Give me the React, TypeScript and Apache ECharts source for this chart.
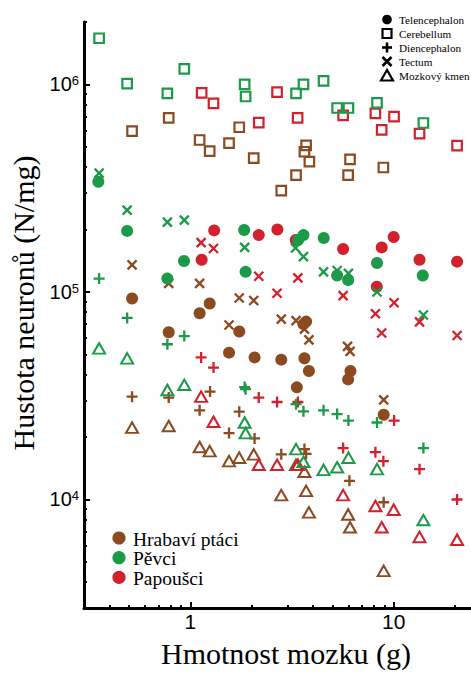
import React, { useEffect, useRef } from "react";
import * as echarts from "echarts";

// ---- labels ----
const groupNames = ["Hrabaví ptáci", "Pěvci", "Papoušci"];
const regionNames = ["Telencephalon", "Cerebellum", "Diencephalon", "Tectum", "Mozkový kmen"];
const xTitle = "Hmotnost mozku (g)";
const yTitle = "Hustota neuronů (N/mg)";

// ---- axis ticks (raw values) ----
const xMajorTicks = [1, 10];
const xMinorTicks = [0.4, 0.5, 0.6, 0.7, 0.8, 0.9, 2, 3, 4, 5, 6, 7, 8, 9, 20];
const yMajorTicks = [1e4, 1e5, 1e6];
const yMinorTicks = [
  4e3, 5e3, 6e3, 7e3, 8e3, 9e3,
  2e4, 3e4, 4e4, 5e4, 6e4, 7e4, 8e4, 9e4,
  2e5, 3e5, 4e5, 5e5, 6e5, 7e5, 8e5, 9e5,
  2e6,
];
const xRange = [0.3, 24];
const yRange = [3000, 2e6];

// ---- data: [brain mass (g), neuron density (N/mg)] ----
// Hrabaví ptáci
const hrabaviTelencephalon = [[0.517, 93000], [0.783, 64000], [1.111, 79000], [1.245, 88000], [1.55, 51000], [1.74, 64500], [2.07, 48400], [2.8, 47200], [3.34, 34700], [3.6, 70000], [3.71, 72000], [3.64, 47900], [3.83, 41600], [5.97, 37900], [6.13, 41600], [8.93, 25600]];
const hrabaviCerebellum = [[0.517, 596000], [0.783, 690000], [1.111, 540000], [1.245, 477000], [1.55, 522000], [1.74, 622000], [2.05, 442000], [2.8, 308000], [3.31, 366000], [3.71, 509000], [3.64, 474000], [3.85, 425000], [5.97, 366000], [6.1, 436000], [8.9, 398000]];
const hrabaviDiencephalon = [[0.517, 31300], [0.783, 31000], [1.111, 26900], [1.25, 33100], [1.55, 20900], [1.74, 26500], [2.07, 19700], [2.8, 16500], [3.64, 17500], [3.71, 16600], [6.06, 12300], [8.93, 9700]];
const hrabaviTectum = [[0.517, 135000], [0.783, 110000], [1.111, 110000], [1.55, 69300], [1.74, 93500], [2.05, 91000], [2.8, 74000], [3.31, 72800], [3.64, 66200], [3.83, 58800], [5.93, 54700], [6.1, 51700], [8.93, 30200]];
const hrabaviKmen = [[0.517, 22200], [0.783, 22600], [1.111, 17900], [1.245, 17100], [1.55, 15300], [1.74, 15900], [2.05, 16500], [2.8, 10500], [3.31, 14700], [3.64, 13600], [3.71, 11000], [3.83, 8670], [5.97, 8470], [6.1, 7350], [8.93, 4530]];
// Pěvci
const pevciTelencephalon = [[0.353, 340000], [0.489, 197000], [0.771, 116000], [0.931, 141000], [1.84, 199000], [1.87, 125000], [3.39, 178000], [3.6, 188000], [4.53, 182000], [5.27, 120000], [5.97, 114000], [8.28, 138000], [13.9, 120000]];
const pevciCerebellum = [[0.356, 1670000], [0.489, 1010000], [0.771, 905000], [0.934, 1190000], [1.85, 1000000], [1.87, 875000], [3.31, 905000], [3.6, 1000000], [4.52, 1040000], [5.27, 770000], [5.99, 770000], [8.28, 815000], [14.0, 652000]];
const pevciDiencephalon = [[0.356, 116000], [0.489, 75000], [0.771, 56000], [0.934, 61300], [1.85, 34800], [1.87, 34000], [3.31, 28800], [3.6, 26600], [4.52, 26900], [5.27, 25800], [5.99, 24000], [8.28, 23500], [14.0, 17700]];
const pevciTectum = [[0.356, 374000], [0.489, 248000], [0.771, 217000], [0.934, 222000], [1.85, 164000], [3.29, 163000], [3.6, 148000], [4.52, 125000], [5.27, 127000], [5.99, 123000], [8.28, 100000], [14.0, 77500]];
const pevciKmen = [[0.356, 53500], [0.489, 47900], [0.771, 33700], [0.934, 35700], [1.85, 23500], [1.87, 20900], [3.31, 17500], [3.6, 15200], [4.52, 13900], [5.27, 14300], [5.99, 15900], [8.28, 14000], [14.0, 7960]];
// Papoušci
const papousciTelencephalon = [[1.137, 143000], [1.31, 198000], [2.17, 188000], [2.68, 200000], [3.3, 178000], [5.64, 161000], [8.26, 106000], [8.73, 164000], [10.0, 184000], [13.4, 143000], [20.5, 140000]];
const papousciCerebellum = [[1.137, 910000], [1.3, 810000], [2.17, 655000], [2.67, 918000], [3.37, 690000], [5.64, 710000], [8.13, 725000], [8.73, 604000], [10.04, 700000], [13.4, 580000], [20.5, 507000]];
const papousciDiencephalon = [[1.13, 48400], [1.3, 43200], [2.17, 31000], [2.67, 29500], [3.38, 29500], [5.64, 17700], [8.13, 16900], [8.9, 15300], [10.05, 24000], [13.4, 14000], [20.5, 10000]];
const papousciTectum = [[1.13, 173000], [1.3, 162000], [2.17, 119000], [2.67, 98600], [3.38, 117000], [5.64, 96000], [8.13, 78500], [8.73, 63400], [10.05, 88700], [13.4, 71800], [20.5, 61700]];
const papousciKmen = [[1.13, 31300], [1.3, 23700], [2.17, 14700], [2.67, 14700], [3.38, 14700], [5.64, 10500], [8.13, 9300], [8.73, 7350], [10.0, 8930], [13.4, 6600], [20.5, 6400]];

const BROWN = "#8b4a20";
const GREEN = "#1b9a48";
const RED = "#d2202c";
const groupColors = [BROWN, GREEN, RED];

const SERIF = "Liberation Serif";
const SANS = "Liberation Sans";

const PLUS = "path://M5,0L5,10M0,5L10,5";
const CROSS = "path://M0,0L10,10M10,0L0,10";

const lx = (g: number) => Math.log10(g);
const ly = (v: number) => Math.log10(v);

const regionStyles: any[] = [
  { symbol: "circle", size: 12, filled: true, bw: 0 },
  { symbol: "rect", size: 9.5, filled: false, bw: 2.2 },
  { symbol: PLUS, size: 11, filled: false, bw: 2.3 },
  { symbol: CROSS, size: 9, filled: false, bw: 2.3 },
  { symbol: "triangle", size: [12, 10.5], filled: false, bw: 2 },
];

function legendGraphics() {
  const els: any[] = [];
  // region legend (top right)
  const sx = 387;
  const tx = 399;
  regionNames.forEach((n, i) => {
    const cy = 19.5 + 14 * i;
    const stroke = { stroke: "#000", lineWidth: 2.2, fill: "none" };
    if (i === 0) els.push({ type: "circle", shape: { cx: sx, cy, r: 4.8 }, style: { fill: "#000" } });
    if (i === 1) els.push({ type: "rect", shape: { x: sx - 4.5, y: cy - 4.5, width: 9, height: 9 }, style: stroke });
    if (i === 2) {
      els.push({ type: "line", shape: { x1: sx - 5, y1: cy, x2: sx + 5, y2: cy }, style: { stroke: "#000", lineWidth: 2.6 } });
      els.push({ type: "line", shape: { x1: sx, y1: cy - 5, x2: sx, y2: cy + 5 }, style: { stroke: "#000", lineWidth: 2.6 } });
    }
    if (i === 3) {
      els.push({ type: "line", shape: { x1: sx - 4.5, y1: cy - 4.5, x2: sx + 4.5, y2: cy + 4.5 }, style: { stroke: "#000", lineWidth: 2.6 } });
      els.push({ type: "line", shape: { x1: sx + 4.5, y1: cy - 4.5, x2: sx - 4.5, y2: cy + 4.5 }, style: { stroke: "#000", lineWidth: 2.6 } });
    }
    if (i === 4) els.push({ type: "polygon", shape: { points: [[sx, cy - 5.5], [sx - 6, cy + 5], [sx + 6, cy + 5]] }, style: stroke });
    els.push({
      type: "text",
      x: tx,
      y: cy,
      style: { text: n, fontFamily: SERIF, fontSize: 11.2, fill: "#000", verticalAlign: "middle", align: "left" },
    });
  });
  // group legend (bottom left)
  groupNames.forEach((n, i) => {
    const cy = 538 + 19.7 * i;
    els.push({ type: "circle", shape: { cx: 119, cy, r: 6.6 }, style: { fill: groupColors[i] } });
    els.push({
      type: "text",
      x: 133,
      y: cy + 1,
      style: { text: n, fontFamily: SERIF, fontSize: 19.5, fill: "#000", verticalAlign: "middle", align: "left" },
    });
  });
  return els;
}

function buildOption() {
  const groups = [
    { name: groupNames[0], color: BROWN, data: [hrabaviTelencephalon, hrabaviCerebellum, hrabaviDiencephalon, hrabaviTectum, hrabaviKmen] },
    { name: groupNames[2], color: RED, data: [papousciTelencephalon, papousciCerebellum, papousciDiencephalon, papousciTectum, papousciKmen] },
    { name: groupNames[1], color: GREEN, data: [pevciTelencephalon, pevciCerebellum, pevciDiencephalon, pevciTectum, pevciKmen] },
  ];
  const series: any[] = [];
  groups.forEach((g) => {
    g.data.forEach((arr, ri) => {
      const st = regionStyles[ri];
      series.push({
        type: "scatter",
        name: g.name + " – " + regionNames[ri],
        xAxisIndex: 0,
        yAxisIndex: 0,
        symbol: st.symbol,
        symbolSize: st.size,
        symbolKeepAspect: false,
        itemStyle: st.filled
          ? { color: g.color, opacity: 1 }
          : { color: "none", borderColor: g.color, borderWidth: st.bw, opacity: 1 },
        emphasis: { disabled: true },
        data: arr.map((p) => [lx(p[0]), ly(p[1])]),
      });
    });
  });

  const xMin = lx(xRange[0]);
  const xMax = lx(xRange[1]);
  const yMin = ly(yRange[0]);
  const yMax = ly(yRange[1]);
  const gridBox = { left: 84, right: 0, top: 22, bottom: 65, containLabel: false };

  return {
    animation: false,
    backgroundColor: "#fff",
    grid: [gridBox, { ...gridBox }],
    graphic: legendGraphics(),
    xAxis: [
      {
        type: "value",
        gridIndex: 0,
        min: xMin,
        max: xMax,
        position: "bottom",
        name: xTitle,
        nameLocation: "middle",
        nameGap: 30,
        nameTextStyle: { fontFamily: SERIF, fontSize: 30, color: "#000", padding: [0, 0, 0, 17] },
        axisLine: { show: true, onZero: false, lineStyle: { color: "#000", width: 3 } },
        axisTick: { show: true, inside: true, length: 6, customValues: xMajorTicks.map(lx), lineStyle: { color: "#000", width: 2 } },
        axisLabel: {
          show: true,
          margin: 3,
          customValues: xMajorTicks.map(lx),
          formatter: (v: number) => String(Math.round(Math.pow(10, v))),
          fontFamily: SANS,
          fontSize: 21,
          color: "#000",
        },
        splitLine: { show: false },
      },
      {
        type: "value",
        gridIndex: 1,
        min: xMin,
        max: xMax,
        position: "bottom",
        axisLine: { show: false, onZero: false },
        axisTick: { show: true, inside: true, length: 3, customValues: xMinorTicks.map(lx), lineStyle: { color: "#000", width: 2 } },
        axisLabel: { show: false },
        splitLine: { show: false },
      },
    ],
    yAxis: [
      {
        type: "value",
        gridIndex: 0,
        min: yMin,
        max: yMax,
        position: "left",
        name: yTitle,
        nameLocation: "middle",
        nameGap: 40,
        nameTextStyle: { fontFamily: SERIF, fontSize: 30, color: "#000", padding: [0, 0, 0, 24] },
        axisLine: { show: true, onZero: false, lineStyle: { color: "#000", width: 3 } },
        axisTick: { show: true, inside: true, length: 6, customValues: yMajorTicks.map(ly), lineStyle: { color: "#000", width: 2 } },
        axisLabel: {
          show: true,
          margin: 5,
          customValues: yMajorTicks.map(ly),
          formatter: (v: number) => "10{s|" + Math.round(v) + "}",
          fontFamily: SANS,
          fontSize: 20,
          color: "#000",
          rich: { s: { fontFamily: SANS, fontSize: 13, color: "#000", verticalAlign: "top" } },
        },
        splitLine: { show: false },
      },
      {
        type: "value",
        gridIndex: 1,
        min: yMin,
        max: yMax,
        position: "left",
        axisLine: { show: false, onZero: false },
        axisTick: { show: true, inside: true, length: 3, customValues: yMinorTicks.map(ly), lineStyle: { color: "#000", width: 2 } },
        axisLabel: { show: false },
        splitLine: { show: false },
      },
    ],
    series,
  };
}

export default function App() {
  const ref = useRef<HTMLDivElement>(null);
  useEffect(() => {
    if (!ref.current) return;
    const chart = echarts.init(ref.current, undefined, { renderer: "svg" });
    chart.setOption(buildOption() as any);
    return () => chart.dispose();
  }, []);
  return (
    <div
      ref={ref}
      style={{ position: "fixed", left: 0, top: 0, width: 471, height: 673, background: "#fff" }}
    />
  );
}
